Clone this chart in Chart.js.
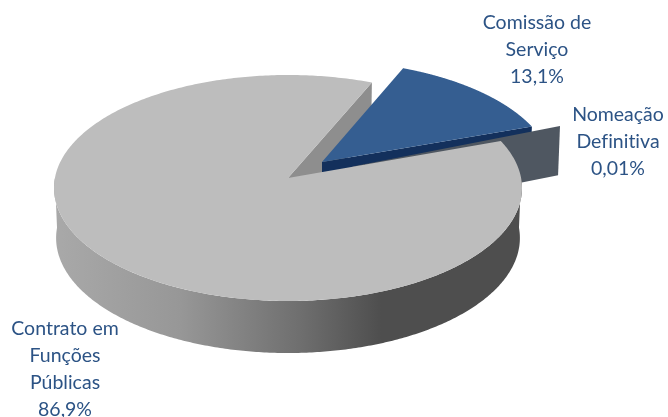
<!DOCTYPE html>
<html>
<head>
<meta charset="utf-8">
<style>
  html, body { margin: 0; padding: 0; background: #fff; }
  #wrap { position: relative; width: 668px; height: 417px; }
</style>
<script src="https://cdn.jsdelivr.net/npm/chart.js@4"></script>
</head>
<body>
<div id="wrap"><canvas id="chart" width="668" height="417"></canvas></div>
<script>
// Vínculos de emprego público, em percentagem
const categories = ['Contrato em Funções Públicas', 'Comissão de Serviço', 'Nomeação Definitiva'];
const shares = [86.9, 13.1, 0.01];
const shareLabels = ['86,9%', '13,1%', '0,01%'];
const labelLines = [['Contrato em', 'Funções', 'Públicas'], ['Comissão de', 'Serviço'], ['Nomeação', 'Definitiva']];

// Pie seen from above: top face and floor are tilted discs
const TILT = 113 / 234;
const EYE = -10 / 113;
const FLOOR_DROP = 50;
const FLOOR_WIDTH = 0.991;
const FLOOR_TILT = 115 / 234;
const TOP_COLORS = ['#bdbdbd', '#355e91', '#4f5761'];
const WALL_COLORS = ['#8e8e8e', '#13305c', '#4f5761'];
const RIM_LIFT = [0, 0, 4.5];

class TiltedArc extends Chart.ArcElement {
  static id = 'tiltedArc';

  // Pulled-out slices travel a little further near the pie's centre
  shift(frac) {
    const off = this.options.offset || 0;
    const mid = (this.startAngle + this.endAngle) / 2;
    const near = 1 - frac;
    return {
      x: off * Math.cos(mid) * (1 + 0.09 * near),
      y: off * Math.sin(mid) * TILT * (1 + 0.12 * near) - RIM_LIFT[this.$context.dataIndex] * frac
    };
  }

  // Projects a point of the unit disc (polar: angle, radial fraction) on the top or floor plane
  project(angle, frac, floor) {
    const u = frac * Math.cos(angle), v = frac * Math.sin(angle);
    const w = 1 + EYE * v;
    const up = u * Math.sqrt(1 - EYE * EYE) / w, vp = (v + EYE) / w;
    const R = this.outerRadius, s = this.shift(frac);
    return floor
      ? { x: this.x + s.x + R * FLOOR_WIDTH * up, y: this.y + s.y + FLOOR_DROP + R * FLOOR_TILT * vp }
      : { x: this.x + s.x + R * up, y: this.y + s.y + R * TILT * vp };
  }

  draw(ctx) {
    const idx = this.$context.dataIndex;
    ctx.save();
    ctx.fillStyle = TOP_COLORS[idx];
    ctx.beginPath();
    const c = this.project(0, 0, false);
    ctx.moveTo(c.x, c.y);
    for (let i = 0; i <= 400; i++) {
      const p = this.project(this.startAngle + (this.endAngle - this.startAngle) * i / 400, 1, false);
      ctx.lineTo(p.x, p.y);
    }
    ctx.closePath();
    ctx.fill();
    ctx.restore();
  }

  // Flat wall along one radial cut of the slice
  drawCut(ctx, angle, color) {
    const a = this.project(angle, 0, false), b = this.project(angle, 1, false);
    const d = this.project(angle, 1, true), e = this.project(angle, 0, true);
    ctx.fillStyle = color;
    ctx.beginPath();
    ctx.moveTo(a.x, a.y); ctx.lineTo(b.x, b.y); ctx.lineTo(d.x, d.y); ctx.lineTo(e.x, e.y);
    ctx.closePath();
    ctx.fill();
  }

  // Curved outer wall of the near half of the rim
  drawRim(ctx) {
    const left = this.x - this.outerRadius, width = 2 * this.outerRadius;
    const g = ctx.createLinearGradient(left, 0, left + width, 0);
    g.addColorStop(0, '#a9a9a9');
    g.addColorStop(0.27, '#979797');
    g.addColorStop(0.53, '#6e6e6e');
    g.addColorStop(0.70, '#4e4e4e');
    g.addColorStop(1, '#4e4e4e');
    ctx.fillStyle = g;
    ctx.beginPath();
    for (let i = 0; i <= 300; i++) {
      const p = this.project(Math.PI * i / 300, 1, false);
      i ? ctx.lineTo(p.x, p.y) : ctx.moveTo(p.x, p.y);
    }
    for (let i = 300; i >= 0; i--) {
      const p = this.project(Math.PI * i / 300, 1, true);
      ctx.lineTo(p.x, p.y);
    }
    ctx.closePath();
    ctx.fill();
  }
}
Chart.register(TiltedArc);
Chart.defaults.datasets.pie.dataElementType = 'tiltedArc';

// Walls sit under every top face, back to front
const wallsPlugin = {
  id: 'walls',
  beforeDatasetsDraw(chart) {
    const ctx = chart.ctx;
    const [main, service, tenure] = chart.getDatasetMeta(0).data;
    ctx.save();
    main.drawCut(ctx, main.endAngle, WALL_COLORS[0]);
    service.drawCut(ctx, service.endAngle, WALL_COLORS[1]);
    tenure.drawCut(ctx, tenure.endAngle, WALL_COLORS[2]);
    main.drawRim(ctx);
    ctx.restore();
  }
};

// Category and share captions around the pie
const captionAnchors = [[65, 329], [537, 23], [618, 115]];
const captionsPlugin = {
  id: 'captions',
  afterDatasetsDraw(chart) {
    const ctx = chart.ctx;
    ctx.save();
    ctx.font = '19.5px Lato, "Open Sans", sans-serif';
    ctx.textRendering = 'optimizeSpeed';
    ctx.fillStyle = '#2c5385';
    ctx.textAlign = 'center';
    ctx.textBaseline = 'middle';
    labelLines.forEach((lines, i) => {
      const [x, y] = captionAnchors[i];
      lines.concat(shareLabels[i]).forEach((line, n) => ctx.fillText(line, x, y + n * 26.8));
    });
    ctx.restore();
  }
};

new Chart(document.getElementById('chart'), {
  type: 'pie',
  data: {
    labels: categories,
    datasets: [{
      data: shares,
      backgroundColor: TOP_COLORS,
      borderWidth: 0,
      offset: [0, 43, 63]
    }]
  },
  options: {
    responsive: false,
    animation: false,
    rotation: 70.1,
    radius: 234,
    layout: { padding: { right: 92, bottom: 41 } },
    events: [],
    plugins: { legend: { display: false }, tooltip: { enabled: false } }
  },
  plugins: [wallsPlugin, captionsPlugin]
});
</script>
</body>
</html>
